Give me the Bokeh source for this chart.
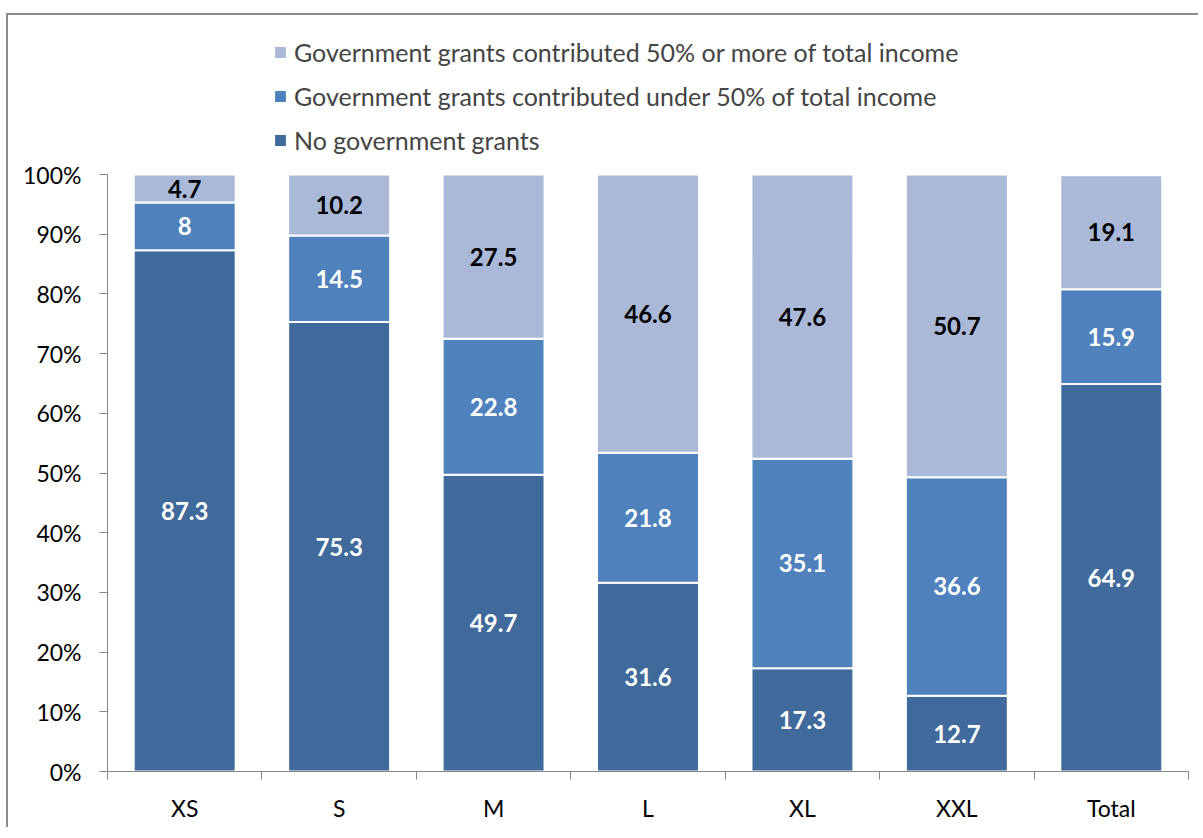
from bokeh.plotting import figure
from bokeh.models import (ColumnDataSource, FixedTicker, PrintfTickFormatter,
                          Legend, LegendItem, Range1d)
from bokeh.core.properties import value
from bokeh.embed import file_html
from bokeh.resources import INLINE

categories = ["XS", "S", "M", "L", "XL", "XXL", "Total"]
no_grants = [87.3, 75.3, 49.7, 31.6, 17.3, 12.7, 64.9]
under_50 = [8, 14.5, 22.8, 21.8, 35.1, 36.6, 15.9]
over_50 = [4.7, 10.2, 27.5, 46.6, 47.6, 50.7, 19.1]

series_names = ["No government grants",
                "Government grants contributed under 50% of total income",
                "Government grants contributed 50% or more of total income"]
colors = ["#3F6A9B", "#4F81BD", "#AAB9D7"]
label_colors = ["white", "white", "black"]

FONT = "Lato"

xs = [i + 0.5 for i in range(len(categories))]
data = dict(x=xs, s0=no_grants, s1=under_50, s2=over_50)
src = ColumnDataSource(data)

p = figure(width=1190, height=812, output_backend="svg", toolbar_location=None,
           x_range=Range1d(0, len(categories)), y_range=Range1d(0, 124.3),
           min_border_left=99, min_border_right=10, min_border_top=14,
           min_border_bottom=56)
p.frame_width = 1081
p.frame_height = 742
p.outline_line_color = None
p.xgrid.visible = False
p.ygrid.visible = False
p.background_fill_color = "white"
p.border_fill_color = "white"
p.styles = {"border-top": "2px solid #8c8c8c", "border-left": "2px solid #8c8c8c",
            "position": "relative", "left": "6px", "top": "13px"}

renderers = p.vbar_stack(["s0", "s1", "s2"], x="x", width=0.66, source=src,
                         color=colors, line_color="white", line_width=2)

# segment labels
bottoms = [0.0] * len(categories)
for k, vals in enumerate([no_grants, under_50, over_50]):
    centers = [b + v / 2 for b, v in zip(bottoms, vals)]
    texts = [("%g" % v) for v in vals]
    lsrc = ColumnDataSource(dict(x=xs, y=centers, t=texts))
    p.text(x="x", y="y", text="t", source=lsrc, text_align="center",
           text_baseline="middle", text_color=label_colors[k],
           text_font=value(FONT), text_font_style="bold", text_font_size="24px")
    bottoms = [b + v for b, v in zip(bottoms, vals)]

# axes
p.yaxis.ticker = FixedTicker(ticks=list(range(0, 101, 10)))
p.yaxis.bounds = (0, 100)
p.yaxis.formatter = PrintfTickFormatter(format="%d%%")
p.yaxis.major_tick_out = 8
p.yaxis.major_tick_in = 0
p.yaxis.minor_tick_out = 0
p.yaxis.minor_tick_in = 0
p.yaxis.major_label_standoff = 18
p.yaxis.axis_line_color = "#868686"
p.yaxis.major_tick_line_color = "#868686"
p.yaxis.major_label_text_font = FONT
p.yaxis.major_label_text_font_size = "23px"
p.yaxis.major_label_text_color = "black"

p.xaxis.ticker = FixedTicker(ticks=xs, minor_ticks=list(range(len(categories) + 1)))
p.xaxis.major_label_overrides = {x: c for x, c in zip(xs, categories)}
p.xaxis.major_tick_out = 0
p.xaxis.major_tick_in = 0
p.xaxis.minor_tick_out = 8
p.xaxis.minor_tick_in = 0
p.xaxis.minor_tick_line_color = "#868686"
p.xaxis.axis_line_color = "#868686"
p.xaxis.major_label_standoff = 14
p.xaxis.major_label_text_font = FONT
p.xaxis.major_label_text_font_size = "23px"
p.xaxis.major_label_text_color = "black"

legend = Legend(items=[LegendItem(label=series_names[k], renderers=[renderers[k]])
                       for k in [2, 1, 0]],
                location=(165, 616), orientation="vertical",
                glyph_width=16, glyph_height=16, label_height=24, spacing=14,
                padding=0, margin=0, border_line_color=None,
                background_fill_alpha=0, label_text_font=FONT,
                label_text_font_size="25px", label_standoff=6)
p.add_layout(legend, "center")

open("out.html", "w").write(file_html(p, INLINE))
